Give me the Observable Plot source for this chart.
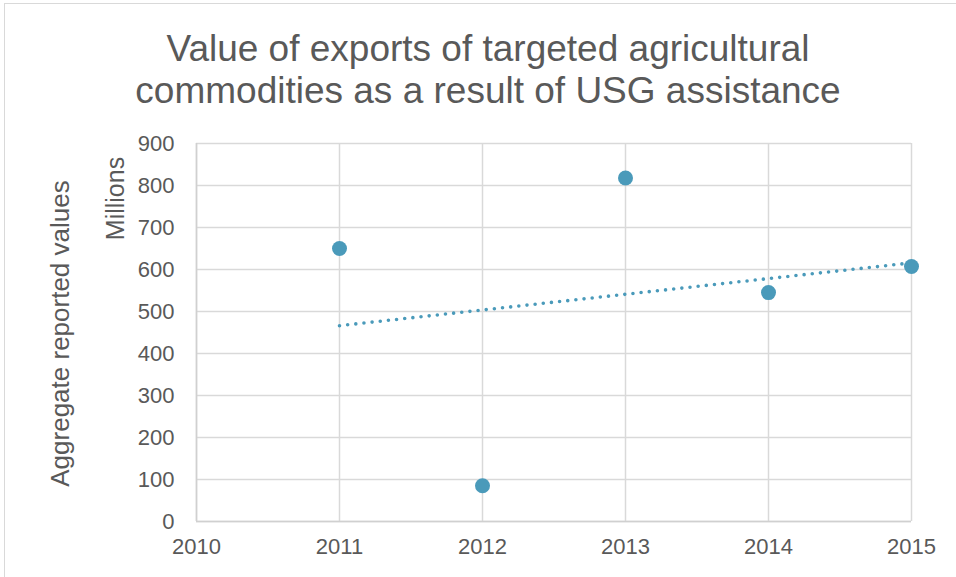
<!DOCTYPE html>
<html>
<head>
<meta charset="utf-8">
<script src="https://cdn.jsdelivr.net/npm/d3@7"></script>
<script src="https://cdn.jsdelivr.net/npm/@observablehq/plot@0.6"></script>
<style>
  html, body { margin: 0; padding: 0; background: #fff; }
  body { width: 956px; height: 577px; position: relative; overflow: hidden; font-family: "Liberation Sans", Arial, sans-serif; }
  #frame { position: absolute; left: 4px; top: 3px; width: 960px; height: 600px; border: 1.5px solid #d9d9d9; box-sizing: border-box; }
  #title { position: absolute; left: 0; top: 28px; width: 976px; text-align: center; font-size: 37px; line-height: 42px; color: #595959; }
  #chart { position: absolute; left: 0; top: 130px; }
</style>
</head>
<body>
<div id="frame"></div>
<div id="title">Value of exports of targeted agricultural<br>commodities as a result of USG assistance</div>
<div id="chart"></div>
<script>
const years = [2011, 2012, 2013, 2014, 2015];
const values = [650, 85, 818, 545, 607];
const xTicks = [2010, 2011, 2012, 2013, 2014, 2015];
const yTicks = [0, 100, 200, 300, 400, 500, 600, 700, 800, 900];

const data = years.map((year, i) => ({year, value: values[i]}));
const color = "#4a9aba";
const gray = "#595959";

const plot = Plot.plot({
  width: 956,
  height: 447,
  marginLeft: 196,
  marginRight: 45,
  marginTop: 13,
  marginBottom: 56,
  style: { fontFamily: "Liberation Sans, Arial, sans-serif", fontSize: "22px", color: gray, background: "transparent", overflow: "visible" },
  x: { domain: [2010, 2015] },
  y: { domain: [0, 900] },
  marks: [
    Plot.gridX(xTicks, { stroke: "#d9d9d9", strokeOpacity: 1, strokeWidth: 1.5 }),
    Plot.gridY(yTicks, { stroke: "#d9d9d9", strokeOpacity: 1, strokeWidth: 1.5 }),
    Plot.ruleY([0], { stroke: "#d0d0d0", strokeWidth: 1.5 }),
    Plot.ruleX([2010], { stroke: "#d0d0d0", strokeWidth: 1.5 }),
    Plot.axisX(xTicks, { tickSize: 0, tickPadding: 17, tickFormat: d => String(d), fill: gray, fontSize: 22, label: null }),
    Plot.axisY(yTicks, { tickSize: 0, tickPadding: 22, fill: gray, fontSize: 22, label: null }),
    Plot.text(["Millions"], { frameAnchor: "left", textAnchor: "middle", dx: -81, dy: -134, rotate: -90, fill: gray, fontSize: 25 }),
    Plot.text(["Aggregate reported values"], { frameAnchor: "left", textAnchor: "middle", dx: -136, dy: 1, rotate: -90, fill: gray, fontSize: 26 }),
    Plot.linearRegressionY(data, { x: "year", y: "value", ci: 0, stroke: color, strokeWidth: 3.6, strokeDasharray: "0 8.2", strokeLinecap: "round" }),
    Plot.dot(data, { x: "year", y: "value", r: 7.5, fill: color, stroke: "none" })
  ]
});
document.getElementById("chart").appendChild(plot);
</script>
</body>
</html>
